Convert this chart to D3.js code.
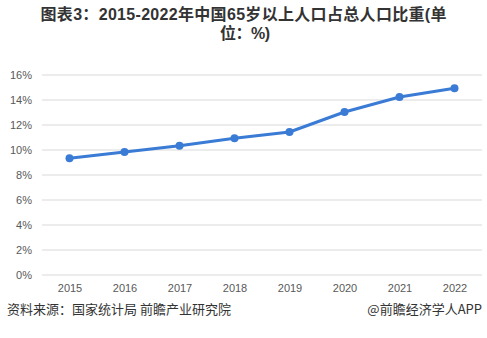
<!DOCTYPE html>
<html>
<head>
<meta charset="utf-8">
<script src="https://cdn.jsdelivr.net/npm/d3@7"></script>
<style>
  html, body { margin: 0; padding: 0; background: #fff; }
  svg { display: block; font-family: "Noto Sans CJK SC", "Noto Sans", sans-serif; }
</style>
</head>
<body>
<svg id="chart" width="487" height="338"></svg>
<script>
// 2015-2022 share of population aged 65+ (%)
const years = ["2015", "2016", "2017", "2018", "2019", "2020", "2021", "2022"];
const shares = [9.3, 9.8, 10.3, 10.9, 11.4, 13.0, 14.2, 14.9];
const yTicks = [0, 2, 4, 6, 8, 10, 12, 14, 16];

const titleLines = ["图表3：2015-2022年中国65岁以上人口占总人口比重(单", "位：%)"];
const titleWidths = [406, 50];
const sourceText = "资料来源：国家统计局 前瞻产业研究院";
const creditText = "@前瞻经济学人APP";

const svg = d3.select("#chart");
const W = 487, H = 338;
const margin = { left: 42, right: 5, top: 74, bottom: 64 };

const x = d3.scalePoint().domain(years)
  .range([margin.left, W - margin.right]).padding(0.5);
const y = d3.scaleLinear().domain([0, 16]).range([274.5, 74.5]);

// title, wrapped over two lines and spread to its set width
svg.append("g").selectAll("text").data(titleLines).join("text")
  .attr("x", (d, i) => i === 0 ? 243.5 : 245).attr("y", (d, i) => 20 + i * 19)
  .attr("text-anchor", "middle")
  .attr("font-family", "'Liberation Sans', 'Noto Sans CJK SC', sans-serif")
  .attr("font-size", 16).attr("font-weight", "bold").attr("fill", "#333")
  .attr("textLength", (d, i) => titleWidths[i]).attr("lengthAdjust", "spacing")
  .text(d => d);

// horizontal grid + y labels
const yAxis = d3.axisLeft(y).tickValues(yTicks)
  .tickSize(-(W - margin.left - margin.right))
  .tickFormat(d => d + "%").tickPadding(10);
const gy = svg.append("g").attr("transform", `translate(${margin.left},0)`).call(yAxis);
gy.select(".domain").remove();
gy.selectAll(".tick line").attr("stroke", "#d9d9d9").attr("stroke-width", 1);
gy.selectAll(".tick text").attr("fill", "#595959").attr("font-size", 11)
  .attr("font-family", "'Liberation Sans', Arial, sans-serif");

// x labels
const xAxis = d3.axisBottom(x).tickSize(0).tickPadding(10);
const gx = svg.append("g").attr("transform", `translate(0,${y(0)})`).call(xAxis);
gx.select(".domain").remove();
gx.selectAll(".tick text").attr("fill", "#595959").attr("font-size", 11)
  .attr("font-family", "'Liberation Sans', Arial, sans-serif");

// series line
const line = d3.line().x((d, i) => x(years[i])).y(d => y(d));
svg.append("path").datum(shares)
  .attr("d", line).attr("fill", "none")
  .attr("stroke", "#3a7bd5").attr("stroke-width", 3)
  .attr("stroke-linejoin", "round");

svg.append("g").selectAll("circle").data(shares).join("circle")
  .attr("cx", (d, i) => x(years[i])).attr("cy", d => y(d))
  .attr("r", 4).attr("fill", "#3a7bd5");

// footer
svg.append("text").attr("x", 7).attr("y", 314)
  .attr("font-size", 13).attr("fill", "#333").text(sourceText);
svg.append("text").attr("x", 482).attr("y", 314).attr("text-anchor", "end")
  .attr("font-size", 13).attr("fill", "#333").text(creditText);
</script>
</body>
</html>
